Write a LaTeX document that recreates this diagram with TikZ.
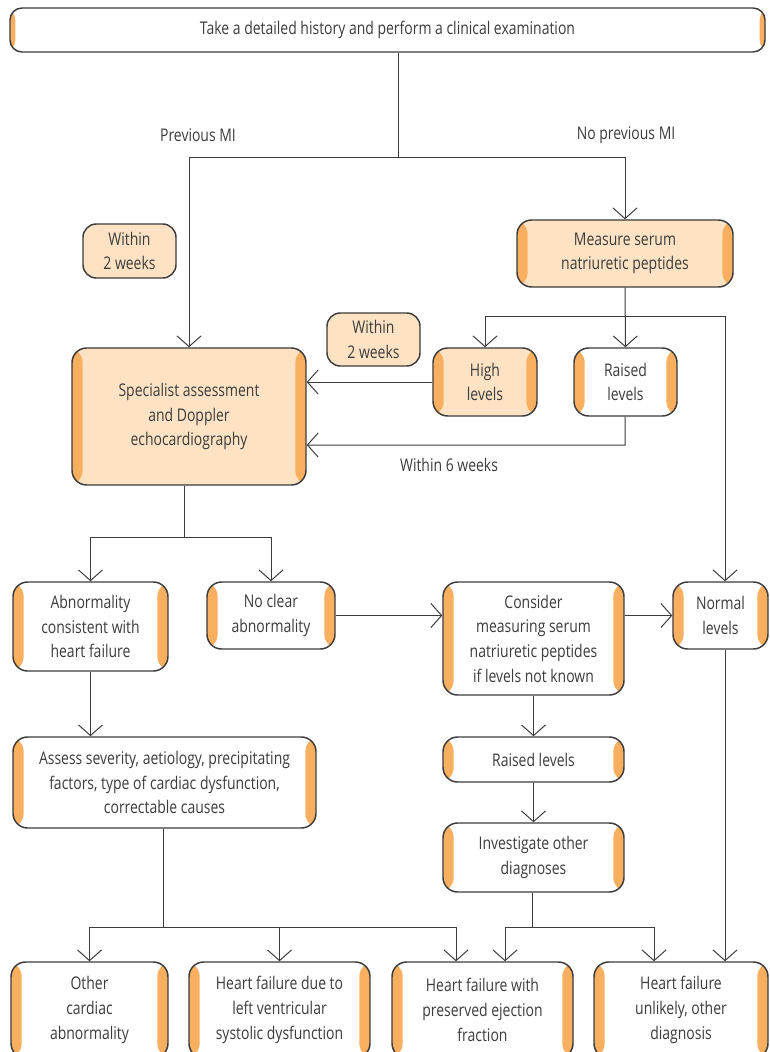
\documentclass[tikz,border=0pt]{standalone}
\usepackage{fontspec}
\setmainfont{Open Sans}[FakeStretch=0.8]
\usetikzlibrary{arrows.meta}
\definecolor{pale}{HTML}{FDE3C3}
\definecolor{stripecol}{HTML}{F8B060}
\definecolor{linecol}{HTML}{3C3C3C}
\definecolor{txtcol}{HTML}{35354A}
\tikzset{
  sz/.style 2 args={minimum width=#1*0.75pt,minimum height=#2*0.75pt},
  stripes/.style={path picture={
    \fill[stripecol](path picture bounding box.south west)rectangle([xshift=#1]path picture bounding box.north west);
    \fill[stripecol](path picture bounding box.south east)rectangle([xshift=-#1]path picture bounding box.north east);}},
  box/.style={draw=linecol,line width=1.1pt,rounded corners=11pt,fill=white,align=center,inner sep=0pt,stripes=8pt},
  pbox/.style={box,fill=pale},
  wbox/.style={draw=linecol,line width=1.1pt,rounded corners=10pt,fill=pale,align=center,inner sep=0pt},
  arr/.style={-{Straight Barb[length=8pt,width=18pt]}},
}
\begin{document}
\begin{tikzpicture}[x=0.75pt,y=-0.75pt,font=\fontsize{13.1pt}{18.5pt}\selectfont,text=txtcol,linecol,line width=0.75pt]
\useasboundingbox(0,0)rectangle(769,1052);\clip(0,0)rectangle(769,1052);
\node[box,sz={755}{44},stripes=4pt,rounded corners=9pt](top)at(387.5,30){Take a detailed history and perform a clinical examination};
\node(pmi)at(198,135){Previous MI};\node(npmi)at(626,135){No previous MI};
\node[wbox,sz={93}{54}](wk1)at(129.5,251){Within\\2 weeks};\node[wbox,sz={93}{53}](wk2)at(373.5,339.5){Within\\2 weeks};
\node[pbox,sz={216}{67}](meas)at(625,253.5){Measure serum\\natriuretic peptides};
\node[pbox,sz={104}{68}](high)at(485,382){High\\levels};\node[box,sz={103}{68}](rais)at(625.5,382){Raised\\levels};
\node[pbox,sz={234}{137}](spec)at(189,416.5){Specialist assessment\\and Doppler\\echocardiography};
\node(six)at(449,465){Within 6 weeks};
\node[box,sz={155}{89}](abn)at(90.5,626.5){Abnormality\\consistent with\\heart failure};
\node[box,sz={128}{67}](nocl)at(271,615.5){No clear\\abnormality};
\node[box,sz={181}{113}](cons)at(533.5,638.5){Consider\\measuring serum\\natriuretic peptides\\if levels not known};
\node[box,sz={95}{67}](norm)at(720.5,615.5){Normal\\levels};
\node[box,sz={303}{91}](asse)at(164.5,782.5){Assess severity, aetiology, precipitating\\factors, type of cardiac dysfunction,\\correctable causes};
\node[box,sz={181}{45}](rais2)at(533.5,759.5){Raised levels};
\node[box,sz={181}{69}](inv)at(533.5,857.5){Investigate other\\diagnoses};
\node[box,sz={157}{96}](oth)at(89.5,1010){Other\\cardiac\\abnormality};
\node[box,sz={181}{96}](lvsd)at(279.5,1010){Heart failure due to\\left ventricular\\systolic dysfunction};
\node[box,sz={181}{96}](pef)at(482.5,1010){Heart failure with\\preserved ejection\\fraction};
\node[box,sz={174}{96}](unl)at(681,1010){Heart failure\\unlikely, other\\diagnosis};
% junctions
\coordinate(j1)at(398,158);\coordinate(j2)at(625,316);\coordinate(j2r)at(725,316);\coordinate(j6)at(625,445);
\coordinate(j3)at(184,537);\coordinate(j4)at(163,927);\coordinate(j4r)at(456,927);
\coordinate(j5)at(532,927);\coordinate(j5l)at(505,927);\coordinate(j5r)at(654,927);\coordinate(jn)at(725,927);
\draw(top.south-|j1)--(j1);\draw[arr](j1)-|(spec.north);\draw[arr](j1)-|(meas.north);
\draw[arr](meas)--(rais);\draw[arr](j2)-|(high.north);\draw[arr](j2)--(j2r)--(j2r|-norm.north);
\draw[arr](high.west)--(spec.east|-high.west);\draw[arr](rais)--(j6)--(j6-|spec.east);
\draw(spec.south-|j3)--(j3);\draw[arr](j3)-|(abn.north);\draw[arr](j3)-|(nocl.north);
\draw[arr](nocl.east)--(cons.west|-nocl.east);\draw[arr](cons.east|-norm.west)--(norm.west);
\draw[arr](abn)--(asse.north-|abn);\draw[arr](cons)--(rais2);\draw[arr](rais2)--(inv);
\draw(asse.south-|j4)--(j4);\draw[arr](j4)-|(oth.north);\draw[arr](j4)-|(lvsd.north);\draw[arr](j4)--(j4r)--(j4r|-pef.north);
\draw(inv.south-|j5)--(j5);\draw[arr](j5)--(j5l)--(j5l|-pef.north);\draw[arr](j5)--(j5r)--(j5r|-unl.north);
\draw[arr](norm.south-|jn)--(jn|-unl.north);
\end{tikzpicture}
\end{document}
